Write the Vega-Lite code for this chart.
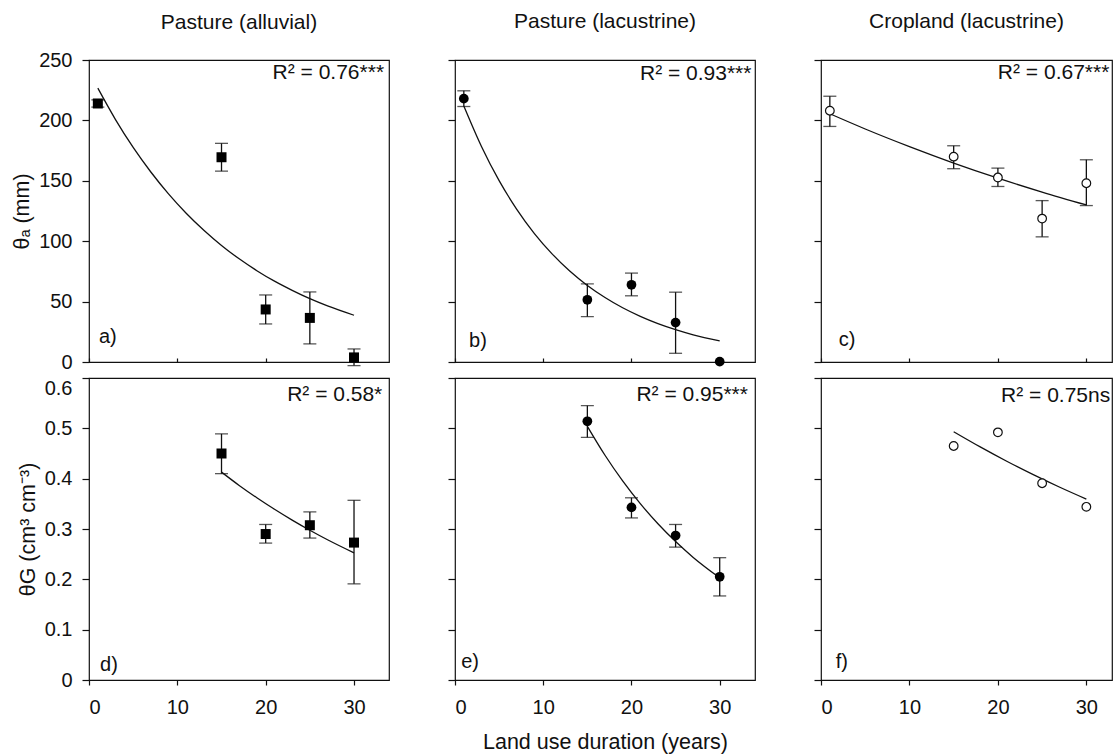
{
  "$schema": "https://vega.github.io/schema/vega-lite/v6.json",
  "padding": {"left": 11, "top": 10, "right": 0, "bottom": 0},
  "config": {
    "font": "Liberation Sans",
    "view": {"stroke": "#111", "strokeWidth": 1.2},
    "axis": {"labelFont": "Liberation Sans", "labelFontSize": 20, "labelColor": "#111", "titleFont": "Liberation Sans", "titleFontSize": 21.5, "titleFontWeight": "normal", "titleColor": "#111", "tickColor": "#111", "tickWidth": 1.2, "grid": false, "domain": false},
    "title": {"font": "Liberation Sans", "fontSize": 21, "fontWeight": "normal", "color": "#111", "offset": 27, "frame": "group"},
    "text": {"font": "Liberation Sans"}
  },
  "datasets": {
    "pts": [
      {"p": "a", "x": 1, "y": 214, "lo": 211, "hi": 217},
      {"p": "a", "x": 15, "y": 169.5, "lo": 158, "hi": 181},
      {"p": "a", "x": 20, "y": 43.5, "lo": 31.5, "hi": 55.5},
      {"p": "a", "x": 25, "y": 36.5, "lo": 15, "hi": 58},
      {"p": "a", "x": 30, "y": 3.8, "lo": -3, "hi": 10.8},
      {"p": "b", "x": 1, "y": 218, "lo": 211.5, "hi": 224.5},
      {"p": "b", "x": 15, "y": 51.5, "lo": 37.6, "hi": 64.7},
      {"p": "b", "x": 20, "y": 63.9, "lo": 54.8, "hi": 73.6},
      {"p": "b", "x": 25, "y": 32.6, "lo": 7.2, "hi": 57.8},
      {"p": "b", "x": 30, "y": 0.3, "lo": null, "hi": null},
      {"p": "c", "x": 1, "y": 208, "lo": 195, "hi": 220},
      {"p": "c", "x": 15, "y": 170, "lo": 160, "hi": 179},
      {"p": "c", "x": 20, "y": 152.7, "lo": 145.3, "hi": 160.5},
      {"p": "c", "x": 25, "y": 118.7, "lo": 103.6, "hi": 133.6},
      {"p": "c", "x": 30, "y": 148, "lo": 129.5, "hi": 167.4},
      {"p": "d", "x": 15, "y": 0.45, "lo": 0.41, "hi": 0.489},
      {"p": "d", "x": 20, "y": 0.29, "lo": 0.272, "hi": 0.309},
      {"p": "d", "x": 25, "y": 0.3075, "lo": 0.282, "hi": 0.334},
      {"p": "d", "x": 30, "y": 0.273, "lo": 0.191, "hi": 0.357},
      {"p": "e", "x": 15, "y": 0.514, "lo": 0.482, "hi": 0.545},
      {"p": "e", "x": 20, "y": 0.343, "lo": 0.322, "hi": 0.362},
      {"p": "e", "x": 25, "y": 0.287, "lo": 0.264, "hi": 0.309},
      {"p": "e", "x": 30, "y": 0.205, "lo": 0.167, "hi": 0.243},
      {"p": "f", "x": 15, "y": 0.465, "lo": null, "hi": null},
      {"p": "f", "x": 20, "y": 0.492, "lo": null, "hi": null},
      {"p": "f", "x": 25, "y": 0.391, "lo": null, "hi": null},
      {"p": "f", "x": 30, "y": 0.344, "lo": null, "hi": null}
    ],
    "fit": [
      {"p": "a", "x": 1, "y": 226.7}, {"p": "a", "x": 3, "y": 200.7}, {"p": "a", "x": 5, "y": 177.6}, {"p": "a", "x": 7, "y": 157.3}, {"p": "a", "x": 9, "y": 139.2}, {"p": "a", "x": 11, "y": 123.2}, {"p": "a", "x": 13, "y": 109.1}, {"p": "a", "x": 15, "y": 96.5}, {"p": "a", "x": 17, "y": 85.4}, {"p": "a", "x": 19, "y": 75.6}, {"p": "a", "x": 21, "y": 66.9}, {"p": "a", "x": 23, "y": 59.3}, {"p": "a", "x": 25, "y": 52.4}, {"p": "a", "x": 27, "y": 46.4}, {"p": "a", "x": 30, "y": 38.7},
      {"p": "b", "x": 1, "y": 211.9}, {"p": "b", "x": 3, "y": 178.4}, {"p": "b", "x": 5, "y": 150.1}, {"p": "b", "x": 7, "y": 126.4}, {"p": "b", "x": 9, "y": 106.3}, {"p": "b", "x": 11, "y": 89.5}, {"p": "b", "x": 13, "y": 75.3}, {"p": "b", "x": 15, "y": 63.4}, {"p": "b", "x": 17, "y": 53.4}, {"p": "b", "x": 19, "y": 44.9}, {"p": "b", "x": 21, "y": 37.8}, {"p": "b", "x": 23, "y": 31.8}, {"p": "b", "x": 25, "y": 26.8}, {"p": "b", "x": 27, "y": 22.5}, {"p": "b", "x": 30, "y": 17.4},
      {"p": "c", "x": 1, "y": 205.5}, {"p": "c", "x": 5, "y": 192.9}, {"p": "c", "x": 10, "y": 178.3}, {"p": "c", "x": 15, "y": 164.7}, {"p": "c", "x": 20, "y": 152.2}, {"p": "c", "x": 25, "y": 140.7}, {"p": "c", "x": 30, "y": 130.0},
      {"p": "d", "x": 15, "y": 0.413}, {"p": "d", "x": 17, "y": 0.3866}, {"p": "d", "x": 19, "y": 0.3621}, {"p": "d", "x": 21, "y": 0.3392}, {"p": "d", "x": 23, "y": 0.3177}, {"p": "d", "x": 25, "y": 0.2976}, {"p": "d", "x": 27, "y": 0.2787}, {"p": "d", "x": 30, "y": 0.2527},
      {"p": "e", "x": 15, "y": 0.504}, {"p": "e", "x": 17, "y": 0.4465}, {"p": "e", "x": 19, "y": 0.3955}, {"p": "e", "x": 21, "y": 0.3504}, {"p": "e", "x": 23, "y": 0.3104}, {"p": "e", "x": 25, "y": 0.275}, {"p": "e", "x": 27, "y": 0.2436}, {"p": "e", "x": 30, "y": 0.203},
      {"p": "f", "x": 15, "y": 0.4933}, {"p": "f", "x": 18, "y": 0.4631}, {"p": "f", "x": 21, "y": 0.4346}, {"p": "f", "x": 24, "y": 0.408}, {"p": "f", "x": 27, "y": 0.383}, {"p": "f", "x": 30, "y": 0.3595}
    ]
  },
  "columns": 3,
  "bounds": "flush",
  "align": "each",
  "spacing": {"row": 16, "column": 66},
  "concat": [
    {
      "width": 300, "height": 302,
      "title": {"text": "Pasture (alluvial)", "offset": 17},
      "layer": [
        {"data": {"name": "fit"}, "transform": [{"filter": "datum.p == 'a'"}],
         "mark": {"type": "line", "color": "#111", "strokeWidth": 1.3, "interpolate": "monotone"},
         "encoding": {
           "x": {"field": "x", "type": "quantitative", "scale": {"domain": [0, 33.96], "nice": false, "zero": false}, "axis": {"title": null, "values": [0, 10, 20, 30], "labels": false, "tickSize": -4}},
           "y": {"field": "y", "type": "quantitative", "scale": {"domain": [0, 250], "nice": false}, "axis": {"title": "θₐ (mm)", "values": [0, 50, 100, 150, 200, 250], "tickSize": 7, "labelPadding": 10, "titlePadding": 5}}}},
        {"data": {"name": "pts"}, "transform": [{"filter": "datum.p == 'a' && datum.lo != null"}],
         "mark": {"type": "rule", "color": "#111", "strokeWidth": 1.3},
         "encoding": {"x": {"field": "x", "type": "quantitative"}, "y": {"field": "lo", "type": "quantitative"}, "y2": {"field": "hi"}}},
        {"data": {"name": "pts"}, "transform": [{"filter": "datum.p == 'a' && datum.lo != null"}],
         "mark": {"type": "tick", "color": "#111", "orient": "horizontal", "size": 13, "thickness": 1.3},
         "encoding": {"x": {"field": "x", "type": "quantitative"}, "y": {"field": "lo", "type": "quantitative"}}},
        {"data": {"name": "pts"}, "transform": [{"filter": "datum.p == 'a' && datum.lo != null"}],
         "mark": {"type": "tick", "color": "#111", "orient": "horizontal", "size": 13, "thickness": 1.3},
         "encoding": {"x": {"field": "x", "type": "quantitative"}, "y": {"field": "hi", "type": "quantitative"}}},
        {"data": {"name": "pts"}, "transform": [{"filter": "datum.p == 'a'"}],
         "mark": {"type": "point", "shape": "square", "filled": true, "color": "#000", "size": 100, "opacity": 1},
         "encoding": {"x": {"field": "x", "type": "quantitative"}, "y": {"field": "y", "type": "quantitative"}}},
        {"data": {"values": [{}]},
         "mark": {"type": "text", "text": "R² = 0.76***", "align": "right", "baseline": "middle", "fontSize": 21, "color": "#111"},
         "encoding": {"x": {"datum": 33.4, "type": "quantitative"}, "y": {"datum": 239, "type": "quantitative"}}},
        {"data": {"values": [{}]},
         "mark": {"type": "text", "text": "a)", "align": "left", "baseline": "middle", "fontSize": 20, "color": "#111"},
         "encoding": {"x": {"datum": 1.13, "type": "quantitative"}, "y": {"datum": 21, "type": "quantitative"}}}
      ]
    },
    {
      "width": 300, "height": 302,
      "title": "Pasture (lacustrine)",
      "layer": [
        {"data": {"name": "fit"}, "transform": [{"filter": "datum.p == 'b'"}],
         "mark": {"type": "line", "color": "#111", "strokeWidth": 1.3, "interpolate": "monotone"},
         "encoding": {
           "x": {"field": "x", "type": "quantitative", "scale": {"domain": [0, 34.0], "nice": false, "zero": false}, "axis": {"title": null, "values": [0, 10, 20, 30], "labels": false, "tickSize": -4}},
           "y": {"field": "y", "type": "quantitative", "scale": {"domain": [0, 250], "nice": false}, "axis": {"title": null, "values": [0, 50, 100, 150, 200, 250], "tickSize": 7, "labels": false}}}},
        {"data": {"name": "pts"}, "transform": [{"filter": "datum.p == 'b' && datum.lo != null"}],
         "mark": {"type": "rule", "color": "#111", "strokeWidth": 1.3},
         "encoding": {"x": {"field": "x", "type": "quantitative"}, "y": {"field": "lo", "type": "quantitative"}, "y2": {"field": "hi"}}},
        {"data": {"name": "pts"}, "transform": [{"filter": "datum.p == 'b' && datum.lo != null"}],
         "mark": {"type": "tick", "color": "#111", "orient": "horizontal", "size": 13, "thickness": 1.3},
         "encoding": {"x": {"field": "x", "type": "quantitative"}, "y": {"field": "lo", "type": "quantitative"}}},
        {"data": {"name": "pts"}, "transform": [{"filter": "datum.p == 'b' && datum.lo != null"}],
         "mark": {"type": "tick", "color": "#111", "orient": "horizontal", "size": 13, "thickness": 1.3},
         "encoding": {"x": {"field": "x", "type": "quantitative"}, "y": {"field": "hi", "type": "quantitative"}}},
        {"data": {"name": "pts"}, "transform": [{"filter": "datum.p == 'b'"}],
         "mark": {"type": "point", "shape": "circle", "filled": true, "color": "#000", "size": 95, "opacity": 1},
         "encoding": {"x": {"field": "x", "type": "quantitative"}, "y": {"field": "y", "type": "quantitative"}}},
        {"data": {"values": [{}]},
         "mark": {"type": "text", "text": "R² = 0.93***", "align": "right", "baseline": "middle", "fontSize": 21, "color": "#111"},
         "encoding": {"x": {"datum": 33.6, "type": "quantitative"}, "y": {"datum": 238, "type": "quantitative"}}},
        {"data": {"values": [{}]},
         "mark": {"type": "text", "text": "b)", "align": "left", "baseline": "middle", "fontSize": 20, "color": "#111"},
         "encoding": {"x": {"datum": 1.6, "type": "quantitative"}, "y": {"datum": 17, "type": "quantitative"}}}
      ]
    },
    {
      "width": 291, "height": 302,
      "title": "Cropland (lacustrine)",
      "layer": [
        {"data": {"name": "fit"}, "transform": [{"filter": "datum.p == 'c'"}],
         "mark": {"type": "line", "color": "#111", "strokeWidth": 1.3, "interpolate": "monotone"},
         "encoding": {
           "x": {"field": "x", "type": "quantitative", "scale": {"domain": [0, 32.9], "nice": false, "zero": false}, "axis": {"title": null, "values": [0, 10, 20, 30], "labels": false, "tickSize": -4}},
           "y": {"field": "y", "type": "quantitative", "scale": {"domain": [0, 250], "nice": false}, "axis": {"title": null, "values": [0, 50, 100, 150, 200, 250], "tickSize": 7, "labels": false}}}},
        {"data": {"name": "pts"}, "transform": [{"filter": "datum.p == 'c' && datum.lo != null"}],
         "mark": {"type": "rule", "color": "#111", "strokeWidth": 1.3},
         "encoding": {"x": {"field": "x", "type": "quantitative"}, "y": {"field": "lo", "type": "quantitative"}, "y2": {"field": "hi"}}},
        {"data": {"name": "pts"}, "transform": [{"filter": "datum.p == 'c' && datum.lo != null"}],
         "mark": {"type": "tick", "color": "#111", "orient": "horizontal", "size": 13, "thickness": 1.3},
         "encoding": {"x": {"field": "x", "type": "quantitative"}, "y": {"field": "lo", "type": "quantitative"}}},
        {"data": {"name": "pts"}, "transform": [{"filter": "datum.p == 'c' && datum.lo != null"}],
         "mark": {"type": "tick", "color": "#111", "orient": "horizontal", "size": 13, "thickness": 1.3},
         "encoding": {"x": {"field": "x", "type": "quantitative"}, "y": {"field": "hi", "type": "quantitative"}}},
        {"data": {"name": "pts"}, "transform": [{"filter": "datum.p == 'c'"}],
         "mark": {"type": "point", "shape": "circle", "filled": true, "fill": "#fff", "stroke": "#111", "strokeWidth": 1.2, "size": 75, "opacity": 1},
         "encoding": {"x": {"field": "x", "type": "quantitative"}, "y": {"field": "y", "type": "quantitative"}}},
        {"data": {"values": [{}]},
         "mark": {"type": "text", "text": "R² = 0.67***", "align": "right", "baseline": "middle", "fontSize": 21, "color": "#111"},
         "encoding": {"x": {"datum": 32.6, "type": "quantitative"}, "y": {"datum": 239, "type": "quantitative"}}},
        {"data": {"values": [{}]},
         "mark": {"type": "text", "text": "c)", "align": "left", "baseline": "middle", "fontSize": 20, "color": "#111"},
         "encoding": {"x": {"datum": 2.0, "type": "quantitative"}, "y": {"datum": 18, "type": "quantitative"}}}
      ]
    },
    {
      "width": 300, "height": 302,
      "layer": [
        {"data": {"name": "fit"}, "transform": [{"filter": "datum.p == 'd'"}],
         "mark": {"type": "line", "color": "#111", "strokeWidth": 1.3, "interpolate": "monotone"},
         "encoding": {
           "x": {"field": "x", "type": "quantitative", "scale": {"domain": [0, 33.96], "nice": false, "zero": false}, "axis": {"title": null, "values": [0, 10, 20, 30], "tickSize": 5, "labelPadding": 12}},
           "y": {"field": "y", "type": "quantitative", "scale": {"domain": [0, 0.6], "nice": false}, "axis": {"title": "θG (cm³ cm⁻³)", "values": [0, 0.1, 0.2, 0.3, 0.4, 0.5, 0.6], "tickSize": 7, "labelPadding": 10, "titlePadding": 5, "labelExpr": "datum.value == 0 ? '0' : format(datum.value, '.1f')", "labelBaseline": {"condition": {"test": "datum.value > 0.55", "value": "top"}, "value": "middle"}}}}},
        {"data": {"name": "pts"}, "transform": [{"filter": "datum.p == 'd' && datum.lo != null"}],
         "mark": {"type": "rule", "color": "#111", "strokeWidth": 1.3},
         "encoding": {"x": {"field": "x", "type": "quantitative"}, "y": {"field": "lo", "type": "quantitative"}, "y2": {"field": "hi"}}},
        {"data": {"name": "pts"}, "transform": [{"filter": "datum.p == 'd' && datum.lo != null"}],
         "mark": {"type": "tick", "color": "#111", "orient": "horizontal", "size": 13, "thickness": 1.3},
         "encoding": {"x": {"field": "x", "type": "quantitative"}, "y": {"field": "lo", "type": "quantitative"}}},
        {"data": {"name": "pts"}, "transform": [{"filter": "datum.p == 'd' && datum.lo != null"}],
         "mark": {"type": "tick", "color": "#111", "orient": "horizontal", "size": 13, "thickness": 1.3},
         "encoding": {"x": {"field": "x", "type": "quantitative"}, "y": {"field": "hi", "type": "quantitative"}}},
        {"data": {"name": "pts"}, "transform": [{"filter": "datum.p == 'd'"}],
         "mark": {"type": "point", "shape": "square", "filled": true, "color": "#000", "size": 100, "opacity": 1},
         "encoding": {"x": {"field": "x", "type": "quantitative"}, "y": {"field": "y", "type": "quantitative"}}},
        {"data": {"values": [{}]},
         "mark": {"type": "text", "text": "R² = 0.58*", "align": "right", "baseline": "middle", "fontSize": 21, "color": "#111"},
         "encoding": {"x": {"datum": 33.2, "type": "quantitative"}, "y": {"datum": 0.567, "type": "quantitative"}}},
        {"data": {"values": [{}]},
         "mark": {"type": "text", "text": "d)", "align": "left", "baseline": "middle", "fontSize": 20, "color": "#111"},
         "encoding": {"x": {"datum": 1.25, "type": "quantitative"}, "y": {"datum": 0.03, "type": "quantitative"}}}
      ]
    },
    {
      "width": 300, "height": 302,
      "layer": [
        {"data": {"name": "fit"}, "transform": [{"filter": "datum.p == 'e'"}],
         "mark": {"type": "line", "color": "#111", "strokeWidth": 1.3, "interpolate": "monotone"},
         "encoding": {
           "x": {"field": "x", "type": "quantitative", "scale": {"domain": [0, 34.0], "nice": false, "zero": false}, "axis": {"title": "Land use duration (years)", "values": [0, 10, 20, 30], "tickSize": 5, "labelPadding": 12, "titlePadding": 14}},
           "y": {"field": "y", "type": "quantitative", "scale": {"domain": [0, 0.6], "nice": false}, "axis": {"title": null, "values": [0, 0.1, 0.2, 0.3, 0.4, 0.5, 0.6], "tickSize": 7, "labels": false}}}},
        {"data": {"name": "pts"}, "transform": [{"filter": "datum.p == 'e' && datum.lo != null"}],
         "mark": {"type": "rule", "color": "#111", "strokeWidth": 1.3},
         "encoding": {"x": {"field": "x", "type": "quantitative"}, "y": {"field": "lo", "type": "quantitative"}, "y2": {"field": "hi"}}},
        {"data": {"name": "pts"}, "transform": [{"filter": "datum.p == 'e' && datum.lo != null"}],
         "mark": {"type": "tick", "color": "#111", "orient": "horizontal", "size": 13, "thickness": 1.3},
         "encoding": {"x": {"field": "x", "type": "quantitative"}, "y": {"field": "lo", "type": "quantitative"}}},
        {"data": {"name": "pts"}, "transform": [{"filter": "datum.p == 'e' && datum.lo != null"}],
         "mark": {"type": "tick", "color": "#111", "orient": "horizontal", "size": 13, "thickness": 1.3},
         "encoding": {"x": {"field": "x", "type": "quantitative"}, "y": {"field": "hi", "type": "quantitative"}}},
        {"data": {"name": "pts"}, "transform": [{"filter": "datum.p == 'e'"}],
         "mark": {"type": "point", "shape": "circle", "filled": true, "color": "#000", "size": 95, "opacity": 1},
         "encoding": {"x": {"field": "x", "type": "quantitative"}, "y": {"field": "y", "type": "quantitative"}}},
        {"data": {"values": [{}]},
         "mark": {"type": "text", "text": "R² = 0.95***", "align": "right", "baseline": "middle", "fontSize": 21, "color": "#111"},
         "encoding": {"x": {"datum": 33.2, "type": "quantitative"}, "y": {"datum": 0.567, "type": "quantitative"}}},
        {"data": {"values": [{}]},
         "mark": {"type": "text", "text": "e)", "align": "left", "baseline": "middle", "fontSize": 20, "color": "#111"},
         "encoding": {"x": {"datum": 0.7, "type": "quantitative"}, "y": {"datum": 0.035, "type": "quantitative"}}}
      ]
    },
    {
      "width": 291, "height": 302,
      "layer": [
        {"data": {"name": "fit"}, "transform": [{"filter": "datum.p == 'f'"}],
         "mark": {"type": "line", "color": "#111", "strokeWidth": 1.3, "interpolate": "monotone"},
         "encoding": {
           "x": {"field": "x", "type": "quantitative", "scale": {"domain": [0, 32.9], "nice": false, "zero": false}, "axis": {"title": null, "values": [0, 10, 20, 30], "tickSize": 5, "labelPadding": 12}},
           "y": {"field": "y", "type": "quantitative", "scale": {"domain": [0, 0.6], "nice": false}, "axis": {"title": null, "values": [0, 0.1, 0.2, 0.3, 0.4, 0.5, 0.6], "tickSize": 7, "labels": false}}}},
        {"data": {"name": "pts"}, "transform": [{"filter": "datum.p == 'f'"}],
         "mark": {"type": "point", "shape": "circle", "filled": true, "fill": "#fff", "stroke": "#111", "strokeWidth": 1.2, "size": 75, "opacity": 1},
         "encoding": {"x": {"field": "x", "type": "quantitative"}, "y": {"field": "y", "type": "quantitative"}}},
        {"data": {"values": [{}]},
         "mark": {"type": "text", "text": "R² = 0.75ns", "align": "right", "baseline": "middle", "fontSize": 21, "color": "#111"},
         "encoding": {"x": {"datum": 32.7, "type": "quantitative"}, "y": {"datum": 0.565, "type": "quantitative"}}},
        {"data": {"values": [{}]},
         "mark": {"type": "text", "text": "f)", "align": "left", "baseline": "middle", "fontSize": 20, "color": "#111"},
         "encoding": {"x": {"datum": 1.66, "type": "quantitative"}, "y": {"datum": 0.036, "type": "quantitative"}}}
      ]
    }
  ]
}
